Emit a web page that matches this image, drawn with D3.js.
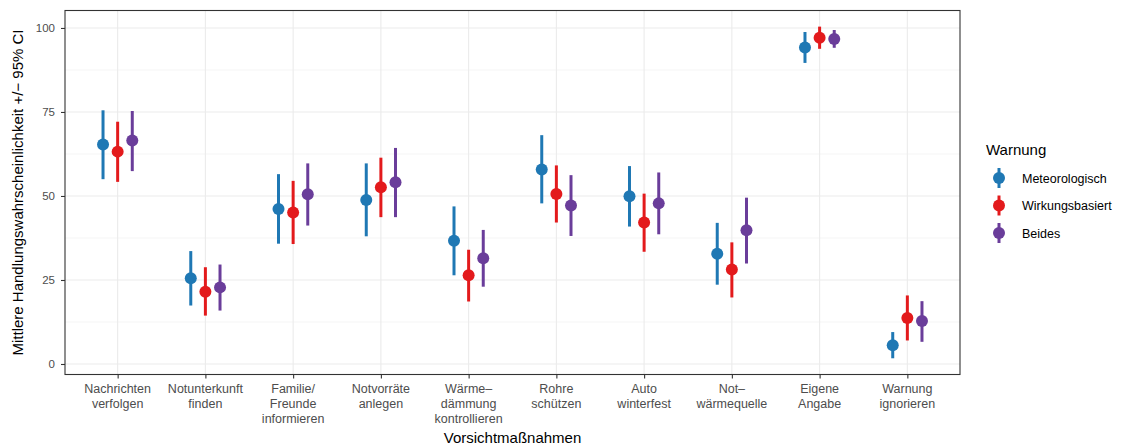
<!DOCTYPE html>
<html>
<head>
<meta charset="utf-8">
<script src="https://cdn.jsdelivr.net/npm/d3@7"></script>
<style>
  html, body { margin: 0; padding: 0; background: #fff; }
  svg { display: block; font-family: "Liberation Sans", Arial, sans-serif; }
</style>
</head>
<body>
<svg id="chart" width="1129" height="448"></svg>
<script>
// Precautionary measures (x categories), with line breaks as drawn
const categories = [
  "Nachrichten\nverfolgen",
  "Notunterkunft\nfinden",
  "Familie/\nFreunde\ninformieren",
  "Notvorräte\nanlegen",
  "Wärme–\ndämmung\nkontrollieren",
  "Rohre\nschützen",
  "Auto\nwinterfest",
  "Not–\nwärmequelle",
  "Eigene\nAngabe",
  "Warnung\nignorieren"
];

const seriesNames = ["Meteorologisch", "Wirkungsbasiert", "Beides"];
const seriesColors = ["#1F78B4", "#E31A1C", "#6A3D9A"];

// Mean probability of acting, with lower / upper 95% CI bounds
const meanMeteo  = [65.3, 25.5, 46.1, 48.8, 36.7, 57.9, 49.9, 32.8, 94.2, 5.6];
const lowMeteo   = [55.0, 17.4, 35.8, 38.0, 26.4, 47.8, 40.9, 23.6, 89.6, 1.7];
const highMeteo  = [75.5, 33.6, 56.5, 59.7, 46.9, 68.1, 58.9, 42.0, 98.8, 9.5];

const meanWirk   = [63.2, 21.5, 45.1, 52.6, 26.4, 50.6, 42.1, 28.1, 97.1, 13.7];
const lowWirk    = [54.2, 14.4, 35.7, 43.7, 18.6, 42.1, 33.4, 19.8, 93.8, 7.0];
const highWirk   = [72.1, 28.8, 54.5, 61.4, 34.0, 59.1, 50.7, 36.2, 100.4, 20.4];

const meanBeides = [66.5, 22.8, 50.5, 54.1, 31.5, 47.2, 47.8, 39.8, 96.7, 12.8];
const lowBeides  = [57.4, 15.9, 41.2, 43.7, 23.0, 38.1, 38.6, 29.9, 94.1, 6.6];
const highBeides = [75.3, 29.6, 59.7, 64.3, 39.9, 56.2, 57.0, 49.5, 99.4, 18.7];

const yTicks = [0, 25, 50, 75, 100];
const yMinor = [12.5, 37.5, 62.5, 87.5];

const seriesMeans = [meanMeteo, meanWirk, meanBeides];
const seriesLows  = [lowMeteo, lowWirk, lowBeides];
const seriesHighs = [highMeteo, highWirk, highBeides];

const rows = [];
seriesNames.forEach((s, si) => {
  categories.forEach((c, ci) => {
    rows.push({ cat: c, series: s, si: si,
      mean: seriesMeans[si][ci], low: seriesLows[si][ci], high: seriesHighs[si][ci] });
  });
});

const svg = d3.select("#chart");
const panel = { left: 65, right: 960, top: 10.5, bottom: 374.5 };

// Discrete x with ggplot-like 0.6 expansion on both sides
const x = d3.scalePoint()
  .domain(categories)
  .range([panel.left, panel.right])
  .padding(0.6);

const step = x.step();
const dodge = d3.scaleBand()
  .domain(seriesNames)
  .range([-0.25 * step, 0.25 * step])
  .padding(0);

const y = d3.scaleLinear()
  .domain([-3.128, 105.2])
  .range([panel.bottom, panel.top]);

const color = d3.scaleOrdinal().domain(seriesNames).range(seriesColors);

// Grid
const grid = svg.append("g");
grid.selectAll(".minor").data(yMinor).join("line")
  .attr("x1", panel.left).attr("x2", panel.right)
  .attr("y1", d => y(d)).attr("y2", d => y(d))
  .attr("stroke", "#EBEBEB").attr("stroke-width", 0.55);
grid.selectAll(".major").data(yTicks).join("line")
  .attr("x1", panel.left).attr("x2", panel.right)
  .attr("y1", d => y(d)).attr("y2", d => y(d))
  .attr("stroke", "#EBEBEB").attr("stroke-width", 1.1);
grid.selectAll(".vmajor").data(categories).join("line")
  .attr("x1", d => x(d)).attr("x2", d => x(d))
  .attr("y1", panel.top).attr("y2", panel.bottom)
  .attr("stroke", "#EBEBEB").attr("stroke-width", 1.1);

// Error bars and points
const marks = svg.append("g");
marks.selectAll("line.ci").data(rows).join("line")
  .attr("class", "ci")
  .attr("x1", d => x(d.cat) + dodge(d.series) + dodge.bandwidth() / 2)
  .attr("x2", d => x(d.cat) + dodge(d.series) + dodge.bandwidth() / 2)
  .attr("y1", d => y(d.low)).attr("y2", d => y(d.high))
  .attr("stroke", d => color(d.series)).attr("stroke-width", 3);
marks.selectAll("circle.pt").data(rows).join("circle")
  .attr("class", "pt")
  .attr("cx", d => x(d.cat) + dodge(d.series) + dodge.bandwidth() / 2)
  .attr("cy", d => y(d.mean))
  .attr("r", 6)
  .attr("fill", d => color(d.series));

// Panel border
svg.append("rect")
  .attr("x", panel.left).attr("y", panel.top)
  .attr("width", panel.right - panel.left).attr("height", panel.bottom - panel.top)
  .attr("fill", "none").attr("stroke", "#333333").attr("stroke-width", 1.1);

// Y axis
const yAxis = svg.append("g").attr("transform", `translate(${panel.left},0)`)
  .call(d3.axisLeft(y).tickValues(yTicks).tickSize(4).tickPadding(6));
yAxis.select(".domain").remove();
yAxis.selectAll(".tick line").attr("stroke", "#333333").attr("stroke-width", 1.1);
yAxis.selectAll(".tick text").attr("fill", "#4D4D4D").style("font-size", "11.5px")
  .style("font-family", "'Liberation Sans', Arial, sans-serif");

// X axis
const xAxis = svg.append("g").attr("transform", `translate(0,${panel.bottom})`)
  .call(d3.axisBottom(x).tickSize(4).tickFormat(""));
xAxis.select(".domain").remove();
xAxis.selectAll(".tick line").attr("stroke", "#333333").attr("stroke-width", 1.1);

const xLabels = svg.append("g");
categories.forEach(c => {
  const t = xLabels.append("text")
    .attr("x", x(c)).attr("y", panel.bottom + 18)
    .attr("text-anchor", "middle")
    .attr("fill", "#4D4D4D").style("font-size", "12.5px");
  c.split("\n").forEach((line, i) => {
    t.append("tspan").attr("x", x(c)).attr("dy", i === 0 ? 0 : 15.3).text(line);
  });
});

// Axis titles
svg.append("text")
  .attr("x", (panel.left + panel.right) / 2).attr("y", 443)
  .attr("text-anchor", "middle").attr("fill", "#000")
  .style("font-size", "15px").text("Vorsichtmaßnahmen");
svg.append("text")
  .attr("transform", `translate(23,${(panel.top + panel.bottom) / 2}) rotate(-90)`)
  .attr("text-anchor", "middle").attr("fill", "#000")
  .style("font-size", "15px").text("Mittlere Handlungswahrscheinlichkeit +/− 95% CI");

// Legend
const legend = svg.append("g");
legend.append("text").attr("x", 986).attr("y", 155)
  .attr("fill", "#000").style("font-size", "15px").text("Warnung");
seriesNames.forEach((s, i) => {
  const cy = 178 + i * 27.5;
  legend.append("line").attr("x1", 999).attr("x2", 999)
    .attr("y1", cy - 10).attr("y2", cy + 10)
    .attr("stroke", color(s)).attr("stroke-width", 3);
  legend.append("circle").attr("cx", 999).attr("cy", cy).attr("r", 6).attr("fill", color(s));
  legend.append("text").attr("x", 1022).attr("y", cy + 4.5)
    .attr("fill", "#000").style("font-size", "12.5px").text(s);
});
</script>
</body>
</html>
